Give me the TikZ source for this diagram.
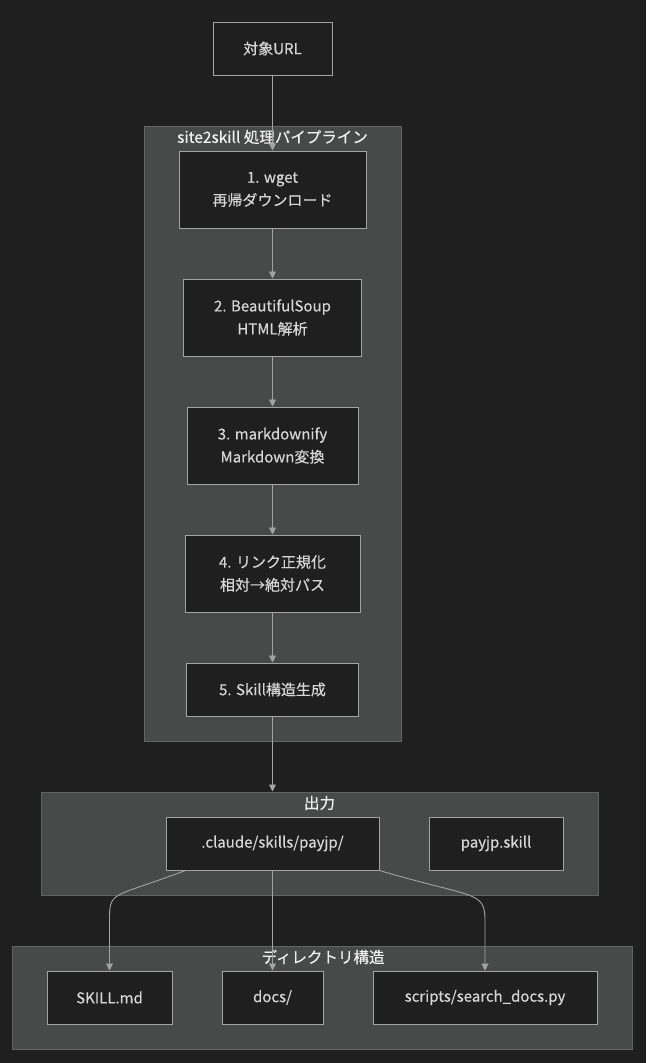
\documentclass[tikz,border=0pt]{standalone}
\usepackage{fontspec}
\setmainfont{Noto Sans CJK JP}
\newfontfamily\medfont{Noto Sans CJK JP}[FakeBold=0.35]
\usetikzlibrary{arrows.meta}
\definecolor{darkbg}{HTML}{1F1F1F}
\definecolor{clusterfill}{HTML}{484A49}
\definecolor{clusterline}{HTML}{626463}
\definecolor{boxline}{HTML}{A3A3A3}
\definecolor{boxtext}{HTML}{D6D6D6}
\definecolor{titletext}{HTML}{F0F0F0}
\tikzset{
  box/.style={draw=boxline, fill=darkbg, line width=1pt, text=boxtext, align=center,
    inner sep=0pt, font=\medfont\fontsize{15}{23}\selectfont},
  cluster/.style={draw=clusterline, fill=clusterfill, line width=1pt, inner sep=0pt},
  ctitle/.style={text=titletext, font=\medfont\fontsize{15.5}{16}\selectfont, inner sep=0pt},
  arr/.style={draw=boxline, line width=0.9pt, -{Triangle[length=7pt,width=7pt]}}
}
\begin{document}
\begin{tikzpicture}[x=1pt,y=-1pt]

\def\BACKGROUND{darkbg}
	\useasboundingbox (0,0) rectangle (646,1063);
	\fill[\BACKGROUND] (0,0) rectangle (646,1063);

	% clusters
	\node[cluster, minimum width=257pt, minimum height=615pt] (pipe) at (272.5,433.5) {};
	\node[ctitle] (t1) at (272.5,137) {site2skill 処理パイプライン};
	\node[cluster, minimum width=557pt, minimum height=103pt] (outbox) at (319.5,843.5) {};
	\node[ctitle] (t2) at (319.5,803) {出力};
	\node[cluster, minimum width=620pt, minimum height=103pt] (dirbox) at (322,997.5) {};
	\node[ctitle] (t3) at (323,957) {ディレクトリ構造};

	% nodes
	\node[box, minimum width=119pt, minimum height=53pt] (url) at (272.5,48.5) {対象URL};
	\node[box, minimum width=187pt, minimum height=77pt] (wget) at (272.5,189.5) {1. wget\\再帰ダウンロード};
	\node[box, minimum width=178pt, minimum height=77pt] (soup) at (272.5,317.5) {2. BeautifulSoup\\HTML解析};
	\node[box, minimum width=171pt, minimum height=77pt] (mdify) at (272.5,445.5) {3. markdownify\\Markdown変換};
	\node[box, minimum width=175pt, minimum height=77pt] (link) at (272.5,573.5) {4. リンク正規化\\相対→絶対パス};
	\node[box, minimum width=172pt, minimum height=53pt] (gen) at (272.5,689.5) {5. Skill構造生成};
	\node[box, minimum width=213pt, minimum height=53pt] (claude) at (272.5,843.5) {.claude/skills/payjp/};
	\node[box, minimum width=134pt, minimum height=53pt] (pkg) at (496,843.5) {payjp.skill};
	\node[box, minimum width=125pt, minimum height=53pt] (skillmd) at (109.5,997.5) {SKILL.md};
	\node[box, minimum width=101pt, minimum height=53pt] (docs) at (272.5,997.5) {docs/};
	\node[box, minimum width=224pt, minimum height=53pt] (scripts) at (485,997.5) {scripts/search\_docs.py};

	% edges
	\draw[arr] (url) -- (wget);
	\draw[arr] (wget) -- (soup);
	\draw[arr] (soup) -- (mdify);
	\draw[arr] (mdify) -- (link);
	\draw[arr] (link) -- (gen);
	\draw[arr] (gen) -- (gen |- outbox.north);
	\draw[arr] ([xshift=20pt]claude.south west) .. controls +(-75,28) and +(0,-30) .. ([yshift=50pt]skillmd.north) -- (skillmd.north);
	\draw[arr] (claude) -- (docs);
	\draw[arr] (claude.south east) .. controls +(95,28) and +(0,-30) .. ([yshift=50pt]scripts.north) -- (scripts.north);

\end{tikzpicture}
\end{document}
